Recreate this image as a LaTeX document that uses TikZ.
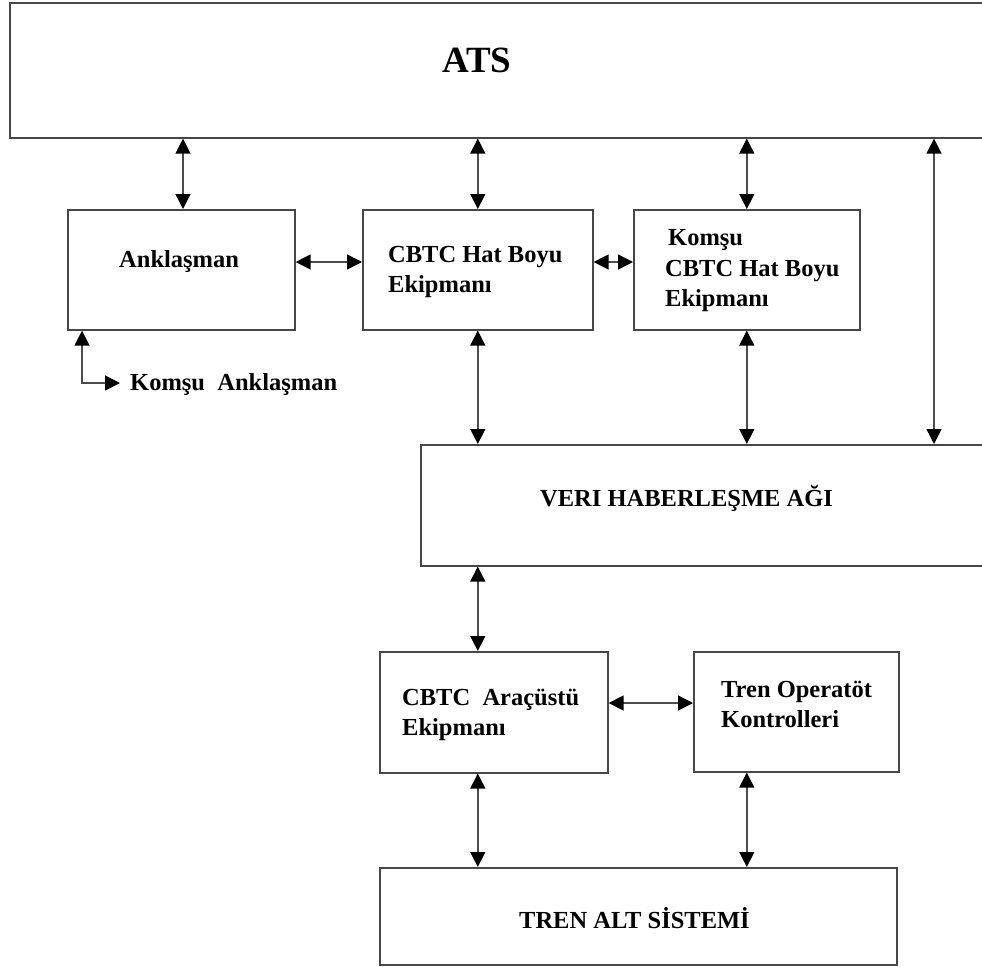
\documentclass[tikz,border=0pt]{standalone}
\usepackage{fontspec}
\setmainfont{Liberation Serif}
\usetikzlibrary{arrows.meta}

\tikzset{
  box/.style={draw=black!72, line width=1.6pt, inner sep=0pt, anchor=north west, fill=white},
  lbl/.style={font=\fontsize{24.5}{30}\selectfont\bfseries, anchor=base west, inner sep=0pt, text=black},
  headtip/.style={Triangle[length=15pt, width=15pt, color=black]},
  biarrow/.style={draw=black!70, line width=1.4pt, arrows={Triangle[length=15pt,width=15pt,color=black]-Triangle[length=15pt,width=15pt,color=black]}}
}

\begin{document}
\begin{tikzpicture}[x=1pt, y=-1pt]
  \useasboundingbox (0,0) rectangle (982,966);
  \clip (0,0) rectangle (982,966);
  \fill[white] (0,0) rectangle (982,966);

  % blocks
  \node[box, minimum width=1000pt, minimum height=135pt] (ats)   at (9,2)     {};
  \node[box, minimum width=227pt,  minimum height=120pt] (ankl)  at (67,209)  {};
  \node[box, minimum width=230pt,  minimum height=120pt] (cbtc)  at (362,209) {};
  \node[box, minimum width=226pt,  minimum height=120pt] (komsu) at (633,209) {};
  \node[box, minimum width=600pt,  minimum height=121pt] (veri)  at (420,444) {};
  \node[box, minimum width=228pt,  minimum height=121pt] (arac)  at (379,651) {};
  \node[box, minimum width=205pt,  minimum height=120pt] (tren)  at (693,651) {};
  \node[box, minimum width=517pt,  minimum height=97pt]  (alt)   at (379,867) {};

  % labels
  \node[lbl, font=\fontsize{37}{40}\selectfont\bfseries] (tAts) at (442,73) {ATS};
  \node[lbl] (tAnkl)  at (119,267) {Anklaşman};
  \node[lbl] (tCb1)   at (388,262) {CBTC Hat Boyu};
  \node[lbl] (tCb2)   at (388,292) {Ekipmanı};
  \node[lbl] (tKo1)   at (668,245) {Komşu};
  \node[lbl] (tKo2)   at (665,276) {CBTC Hat Boyu};
  \node[lbl] (tKo3)   at (665,306) {Ekipmanı};
  \node[lbl] (tKank)  at (130,390) {Komşu\ \ Anklaşman};
  \node[lbl] (tVeri)  at (540,506) {VERI HABERLEŞME AĞI};
  \node[lbl] (tAr1)   at (402,705) {CBTC\ \ Araçüstü};
  \node[lbl] (tAr2)   at (402,735) {Ekipmanı};
  \node[lbl] (tTr1)   at (721,697) {Tren Operatöt};
  \node[lbl] (tTr2)   at (721,727) {Kontrolleri};
  \node[lbl] (tAlt)   at (519,928) {TREN ALT SİSTEMİ};

  % guide points for connectors
  \coordinate (rx) at (934,0);
  \coordinate (ax) at (183,0);
  \coordinate (kx) at (82,0);
  \coordinate (kend) at (120,383);

  % connectors
  \draw[biarrow] (ats.south -| ax) -- (ankl.north -| ax);
  \draw[biarrow] (ats.south -| cbtc) -- (cbtc.north);
  \draw[biarrow] (ats.south -| komsu) -- (komsu.north);
  \draw[biarrow] (ats.south -| rx) -- (veri.north -| rx);

  \draw[biarrow] (ankl.east |- 0,262) -- (cbtc.west |- 0,262);
  \draw[biarrow] (cbtc.east |- 0,262) -- (komsu.west |- 0,262);

  \draw[biarrow] (cbtc.south) -- (veri.north -| cbtc);
  \draw[biarrow] (komsu.south) -- (veri.north -| komsu);

  \draw[biarrow] (ankl.south -| kx) |- (kend);

  \draw[biarrow] (veri.south -| cbtc) -- (arac.north -| cbtc);
  \draw[biarrow] (arac.east |- 0,703) -- (tren.west |- 0,703);
  \draw[biarrow] (arac.south -| cbtc) -- (alt.north -| cbtc);
  \draw[biarrow] (tren.south -| komsu) -- (alt.north -| komsu);
\end{tikzpicture}
\end{document}
